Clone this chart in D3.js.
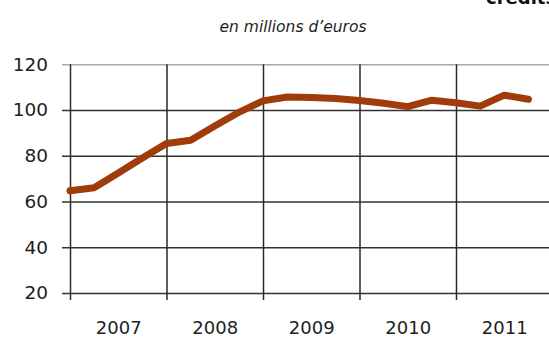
<!DOCTYPE html>
<html>
<head>
<meta charset="utf-8">
<script src="https://cdnjs.cloudflare.com/ajax/libs/d3/7.8.5/d3.min.js"></script>
<style>
  html, body { margin: 0; padding: 0; background: #fff; }
  svg { display: block; }
</style>
</head>
<body>
<script>
// Quarterly outstanding amounts, in millions of euros (Q1 2007 to Q4 2011)
const quarterValues = [64.7, 66, 72.5, 79, 85.4, 86.8, 93, 99, 104, 105.7,
                       105.5, 105, 104.2, 103, 101.5, 104.3, 103.2, 101.7, 106.5, 104.7];
const years = ["2007", "2008", "2009", "2010", "2011"];
const yTicks = [20, 40, 60, 80, 100, 120];
const subtitle = "en millions d\u2019euros";
const titleText = "crédits";

const W = 549, H = 337;
const plotLeft = 70, plotRight = 552.5, plotTop = 64.3, plotBottom = 293;

const svg = d3.select("body").append("svg")
  .attr("width", W).attr("height", H);

const x = d3.scaleLinear().domain([0, quarterValues.length]).range([plotLeft, plotRight]);
const y = d3.scaleLinear().domain([20, 120]).range([plotBottom, plotTop]);

const font = "'DejaVu Sans', Verdana, sans-serif";

// horizontal gridlines, with short ticks to the left of the axis
const grid = svg.append("g")
  .attr("transform", `translate(${plotLeft - 8},0)`)
  .call(d3.axisLeft(y).tickValues(yTicks).tickSize(-(plotRight - plotLeft + 8)).tickFormat(""));
grid.select(".domain").remove();
grid.selectAll(".tick line")
  .attr("stroke", d => d === 120 ? "#a8a8a8" : "#333")
  .attr("stroke-width", 1.5);

// year boundaries: vertical gridlines that run into ticks below the axis
const yearBounds = d3.range(0, quarterValues.length + 1, 4);
const vgrid = svg.append("g")
  .attr("transform", `translate(0,${plotBottom + 7})`)
  .call(d3.axisBottom(x).tickValues(yearBounds).tickSize(-(plotBottom + 7 - plotTop)).tickFormat(""));
vgrid.select(".domain").remove();
vgrid.selectAll(".tick line").attr("stroke", "#2a2a2a").attr("stroke-width", 1.5);

// y tick labels
const yLab = svg.append("g")
  .attr("transform", `translate(${plotLeft - 8},0)`)
  .call(d3.axisLeft(y).tickValues(yTicks).tickSize(0).tickPadding(14));
yLab.select(".domain").remove();
yLab.selectAll("text")
  .attr("font-family", font).attr("font-size", 18.5).attr("fill", "#1e1e1e");

// year labels centred in each year band
const yearCenters = years.map((_, i) => i * 4 + 2);
const xLab = svg.append("g")
  .attr("transform", `translate(0,${plotBottom})`)
  .call(d3.axisBottom(x).tickValues(yearCenters).tickSize(0).tickPadding(28)
    .tickFormat((d, i) => years[i]));
xLab.select(".domain").remove();
xLab.selectAll("text")
  .attr("font-family", font).attr("font-size", 18).attr("fill", "#1e1e1e");

// the series
const line = d3.line()
  .x((d, i) => x(i))
  .y(d => y(d));
svg.append("path")
  .datum(quarterValues)
  .attr("d", line)
  .attr("fill", "none")
  .attr("stroke", "#a03c0a")
  .attr("stroke-width", 7)
  .attr("stroke-linejoin", "round")
  .attr("stroke-linecap", "round");

// subtitle
svg.append("text")
  .attr("x", 293).attr("y", 32)
  .attr("text-anchor", "middle")
  .attr("font-family", font).attr("font-style", "italic")
  .attr("font-size", 15.5).attr("fill", "#1e1e1e")
  .text(subtitle);

// title, running off the top edge
svg.append("text")
  .attr("x", 486).attr("y", 4)
  .attr("font-family", font).attr("font-weight", "bold")
  .attr("font-size", 18).attr("fill", "#111")
  .text(titleText);
</script>
</body>
</html>
